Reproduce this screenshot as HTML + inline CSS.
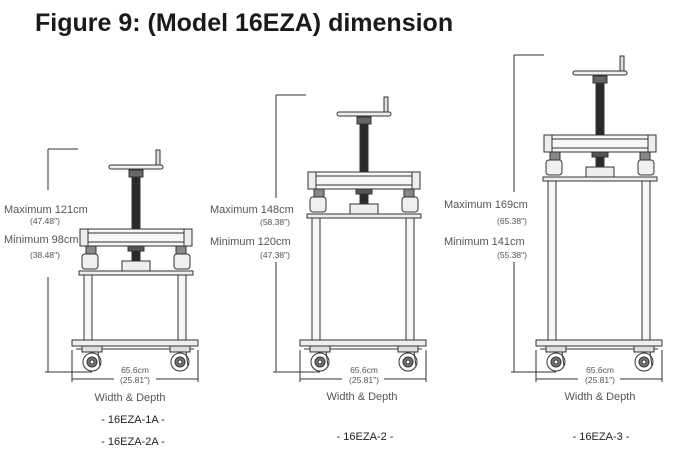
<!DOCTYPE html>
<html><head><meta charset="utf-8"><style>
html,body{margin:0;padding:0;background:#fff;overflow:hidden;}
svg{display:block;font-family:"Liberation Sans",sans-serif;}
.t{fill:#555;font-size:11px;}
.s{fill:#555;font-size:8.5px;}
</style></head><body>
<svg id="s" width="692" height="457" viewBox="0 0 692 457">
<text x="35" y="31" font-size="25" font-weight="bold" fill="#1a1a1a">Figure 9: (Model 16EZA) dimension</text>
<g id="shapes" stroke="#333" stroke-width="1" fill="none"></g>
<g>
<text class="t" x="4" y="213">Maximum 121cm</text>
<text class="s" x="30" y="224">(47.48")</text>
<text class="t" x="4" y="243">Minimum 98cm</text>
<text class="s" x="30" y="258">(38.48")</text>
<text class="t" x="210" y="213">Maximum 148cm</text>
<text class="s" x="260" y="225">(58.38")</text>
<text class="t" x="210" y="245">Minimum 120cm</text>
<text class="s" x="260" y="258">(47.38")</text>
<text class="t" x="444" y="208">Maximum 169cm</text>
<text class="s" x="497" y="224">(65.38")</text>
<text class="t" x="444" y="245">Minimum 141cm</text>
<text class="s" x="497" y="258">(55.38")</text>
<text class="s" x="135" y="373" text-anchor="middle">65.6cm</text>
<text class="s" x="135" y="383" text-anchor="middle">(25.81")</text>
<text class="s" x="364" y="373" text-anchor="middle">65.6cm</text>
<text class="s" x="364" y="383" text-anchor="middle">(25.81")</text>
<text class="s" x="600" y="373" text-anchor="middle">65.6cm</text>
<text class="s" x="600" y="383" text-anchor="middle">(25.81")</text>
<text class="t" x="130" y="401" text-anchor="middle" font-size="12">Width &amp; Depth</text>
<text class="t" x="362" y="400" text-anchor="middle" font-size="12">Width &amp; Depth</text>
<text class="t" x="600" y="400" text-anchor="middle" font-size="12">Width &amp; Depth</text>
<text x="133" y="423" text-anchor="middle" font-size="11" fill="#222">- 16EZA-1A -</text>
<text x="133" y="445" text-anchor="middle" font-size="11" fill="#222">- 16EZA-2A -</text>
<text x="365" y="440" text-anchor="middle" font-size="11" fill="#222">- 16EZA-2 -</text>
<text x="601" y="440" text-anchor="middle" font-size="11" fill="#222">- 16EZA-3 -</text>
</g>
</svg>
<script>
function cart(cx,F,P,dx,top,g1,g2){
 var s='';
 function r(x,y,w,h,f,rx){s+='<rect x="'+x+'" y="'+y+'" width="'+w+'" height="'+h+'" fill="'+(f||'#f6f6f6')+'"'+(rx?' rx="'+rx+'"':'')+'/>';}
 function l(a,b,c,d){s+='<line x1="'+a+'" y1="'+b+'" x2="'+c+'" y2="'+d+'"/>';}
 l(dx,top,dx+30,top);l(dx,top,dx,g1);l(dx,g2,dx,372);l(dx-3,372,cx-44,372);
 var lh=340-(F+46);
 r(cx-52,F+46,8,lh);r(cx+42,F+46,8,lh);
 r(cx-4,P+10,8,F-P-10,'#2a2a2a');r(cx-7,P+3,14,7,'#666');
 r(cx-27,P-2,54,4,'#eee',2);r(cx+20,P-17,4,15,'#ddd');
 r(cx-56,F,112,17,'#f6f6f6',2);l(cx-56,F+4,cx+56,F+4);l(cx-56,F+13,cx+56,F+13);
 r(cx-56,F,8,17,'#eee');r(cx+48,F,8,17,'#eee');
 r(cx-50,F+17,10,8,'#888');r(cx+40,F+17,10,8,'#888');
 r(cx-54,F+25,16,15,'#f0f0f0',3);r(cx+38,F+25,16,15,'#f0f0f0',3);
 r(cx-8,F+17,16,5,'#555');r(cx-4,F+22,8,10,'#2a2a2a');r(cx-14,F+32,28,10,'#eee');
 r(cx-57,F+42,114,4,'#eee');
 r(cx-64,340,126,6,'#eee');l(cx-60,349,cx+58,349);
 [cx-44,cx+44].forEach(function(w){
  r(w-10,346,20,6,'#ddd');
  s+='<circle cx="'+w+'" cy="362" r="9" fill="#fff"/><circle cx="'+w+'" cy="362" r="5" fill="#777"/><circle cx="'+w+'" cy="362" r="2" fill="#fff"/>';
  l(w+6,352,w+8,366);
 });
 l(cx-64,350,cx-64,382);l(cx+62,350,cx+62,382);
 l(cx-64,379,cx-22,379);l(cx+20,379,cx+62,379);
 return s;
}
document.getElementById('shapes').innerHTML=
 cart(136,229,167,48,149,190,277)+cart(364,172,114,276,95,198,262)+cart(600,135,73,514,55,192,262);
</script>
</body></html>
